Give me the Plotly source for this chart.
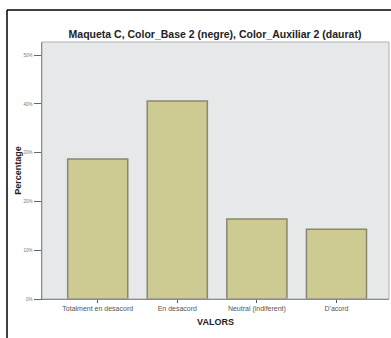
import plotly.graph_objects as go

categories = ["Totalment en desacord", "En desacord", "Neutral (indiferent)", "D'acord"]
percentages = [28.7, 40.6, 16.4, 14.3]
y_tick_values = [0, 10, 20, 30, 40, 50]
y_tick_labels = ["0%", "10%", "20%", "30%", "40%", "50%"]

fig = go.Figure()
fig.add_trace(go.Bar(
    x=list(range(len(categories))),
    y=percentages,
    width=0.755,
    marker=dict(color="#cdca92", line=dict(color="#8a8672", width=1.5)),
    hoverinfo="skip",
))

fig.update_layout(
    width=391, height=338,
    margin=dict(l=42, r=2, t=42, b=39),
    paper_bgcolor="white",
    plot_bgcolor="#e6e8ea",
    showlegend=False,
    font=dict(family="Liberation Sans", size=5, color="#333"),
    title=dict(text="<b>Maqueta C, Color_Base 2 (negre), Color_Auxiliar 2 (daurat)</b>",
               x=215/391, xanchor="center", y=1-34/338, yanchor="middle",
               font=dict(size=10.5, color="#222", family="Liberation Sans")),
    xaxis=dict(
        tickmode="array", tickvals=list(range(len(categories))), ticktext=categories,
        range=[-0.70, 3.66], showgrid=False, zeroline=False,
        ticks="outside", ticklen=3, tickcolor="#555",
        showline=True, linecolor="#666", linewidth=1, mirror=False,
        tickfont=dict(size=7, color="#555"),
        title=dict(text="<b>VALORS</b>", font=dict(size=9, color="#222"), standoff=6),
    ),
    yaxis=dict(
        tickmode="array", tickvals=y_tick_values, ticktext=y_tick_labels,
        range=[0, 52.7], showgrid=False, zeroline=False,
        ticks="outside", ticklen=7, tickcolor="#666",
        showline=True, linecolor="#666", linewidth=1.5,
        tickfont=dict(size=4.5, color="#777"),
        title=dict(text="<b>Percentage</b>", font=dict(size=9, color="#222"), standoff=0),
    ),
)

# plot-area frame
fig.add_shape(type="rect", xref="paper", yref="paper", x0=0, x1=1, y0=0, y1=1,
              line=dict(color="#b0b0b0", width=1), fillcolor="rgba(0,0,0,0)", layer="above")
# outer black frame (top and left visible)
fig.add_shape(type="line", xref="paper", yref="paper",
              x0=(7-42)/347, x1=(400-42)/347, y0=(299-10)/257, y1=(299-10)/257,
              line=dict(color="black", width=1.5))
fig.add_shape(type="line", xref="paper", yref="paper",
              x0=(7-42)/347, x1=(7-42)/347, y0=(299-10)/257, y1=(299-345)/257,
              line=dict(color="black", width=1.5))

fig.write_html("out.html", config={"displayModeBar": False, "staticPlot": True},
               post_script="document.body.style.margin='0';document.body.style.overflow='hidden';")
